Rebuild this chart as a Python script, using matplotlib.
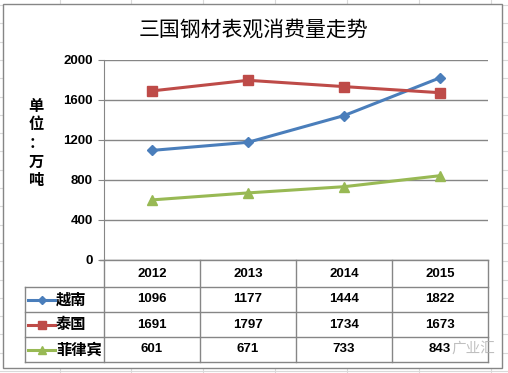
import matplotlib
matplotlib.use('Agg')
import matplotlib.pyplot as plt
from matplotlib.lines import Line2D
from matplotlib.patches import Rectangle
import matplotlib.transforms as mtransforms

plt.rcParams['font.family'] = ['Liberation Sans', 'Noto Sans CJK SC', 'DejaVu Sans']

# data
years = ['2012', '2013', '2014', '2015']
series_names = ['越南', '泰国', '菲律宾']
vietnam = [1096, 1177, 1444, 1822]
thailand = [1691, 1797, 1734, 1673]
philippines = [601, 671, 733, 843]
y_ticks = [0, 400, 800, 1200, 1600, 2000]

title = '三国钢材表观消费量走势'
unit = '单位：万吨'
watermark = '广业汇'

colors = ['#4A7EBB', '#BE4B48', '#98B954']
markers = ['D', 's', '^']
msizes = [5.5, 7, 7.5]
grid_col = '#868686'

W, H = 508, 373
fig = plt.figure(figsize=(W / 100, H / 100), dpi=100)


def fx(px):
    return px / W


def fy(py):
    return 1 - py / H


# excel sheet grid in the background
for x in [60, 131, 203, 275, 347, 419, 491]:
    fig.add_artist(Line2D([fx(x)] * 2, [0, 1], color='#d9d9d9', lw=0.8, zorder=-3))
for k in range(22):
    y = 5 + 18.3 * k
    fig.add_artist(Line2D([0, 1], [fy(y)] * 2, color='#d9d9d9', lw=0.8, zorder=-3))

# chart area
fig.add_artist(Rectangle((fx(3), fy(368)), fx(499), 364 / H, transform=fig.transFigure,
                         facecolor='white', edgecolor=grid_col, lw=1.0, zorder=-2))

# plot area
ax = fig.add_axes([fx(104), fy(260), fx(384), 200 / H])
ax.set_facecolor('none')
data = [vietnam, thailand, philippines]
xs = range(len(years))
for vals, c, m, s in zip(data, colors, markers, msizes):
    ax.plot(xs, vals, color=c, lw=2.2, marker=m, markersize=s, zorder=3, clip_on=False)

ax.set_xlim(-0.5, len(years) - 0.5)
ax.set_ylim(0, 2000)
ax.set_yticks(y_ticks)
ax.set_yticklabels([str(t) for t in y_ticks], fontsize=9.5, fontweight='bold')
ax.set_xticks([])
ax.tick_params(axis='y', length=4, color=grid_col, pad=4)
ax.yaxis.grid(True, color=grid_col, lw=1.0)
ax.set_axisbelow(True)
for s in ['top', 'right', 'bottom']:
    ax.spines[s].set_visible(False)
ax.spines['left'].set_color(grid_col)

fig.text(fx(253), fy(30), title, ha='center', va='center', fontsize=15,
         fontweight='medium', family=['Noto Sans CJK SC', 'DejaVu Sans'])
fig.text(fx(36), fy(143), '\n'.join(unit), ha='center', va='center', fontsize=11,
         fontweight='bold', linespacing=1.2, family=['Noto Sans CJK SC', 'DejaVu Sans'])

# data table
row_lines = [260, 287, 312, 337, 362]
col_lines = [104, 200, 296, 392, 488]
fig.add_artist(Line2D([fx(100), fx(488)], [fy(260)] * 2, color=grid_col, lw=1.0))
for y in row_lines[1:]:
    fig.add_artist(Line2D([fx(25), fx(488)], [fy(y)] * 2, color=grid_col, lw=1.0))
for x in col_lines:
    fig.add_artist(Line2D([fx(x)] * 2, [fy(260), fy(362)], color=grid_col, lw=1.0))
fig.add_artist(Line2D([fx(25)] * 2, [fy(287), fy(362)], color=grid_col, lw=1.0))

blend = mtransforms.blended_transform_factory(ax.transData, fig.transFigure)
for i, yr in enumerate(years):
    fig.text(i, fy(274), yr, transform=blend, ha='center', va='center',
             fontsize=9.5, fontweight='bold')
for r, (name, vals, c, m, s) in enumerate(zip(series_names, data, colors, markers, msizes)):
    yc = fy((row_lines[r + 1] + row_lines[r + 2]) / 2)
    for i, v in enumerate(vals):
        fig.text(i, yc, str(v), transform=blend, ha='center', va='center',
                 fontsize=9.5, fontweight='bold')
    fig.add_artist(Line2D([fx(28), fx(55)], [yc, yc], color=c, lw=2.2))
    fig.add_artist(Line2D([fx(41.5)], [yc], color=c, marker=m, markersize=s * 0.8, lw=0))
    fig.text(fx(56), yc, name, ha='left', va='center', fontsize=11, fontweight='bold',
             family=['Noto Sans CJK SC', 'DejaVu Sans'])

# faint watermark over the last cell
fig.text(fx(451), fy(349), watermark, ha='left', va='center', fontsize=10.5,
         color='#b0b0b0', alpha=0.8, family=['Noto Sans CJK SC', 'DejaVu Sans'])

fig.savefig('out.png', dpi=100)
